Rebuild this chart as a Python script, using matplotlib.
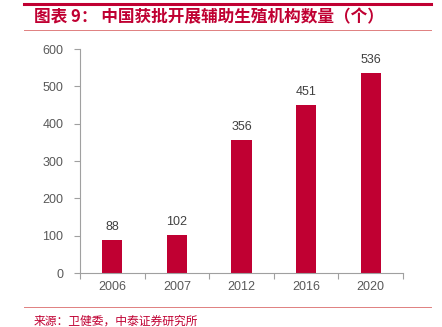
import matplotlib
matplotlib.use('Agg')
import matplotlib.pyplot as plt
from matplotlib.lines import Line2D

plt.rcParams['font.family'] = ['Liberation Sans', 'Noto Sans CJK SC', 'DejaVu Sans']

years = ['2006', '2007', '2012', '2016', '2020']
counts = [88, 102, 356, 451, 536]

title = '图表 9： 中国获批开展辅助生殖机构数量（个）'
source = '来源：卫健委，中泰证券研究所'

red = '#C00032'
grey = '#595959'

W, H = 442, 327
fig = plt.figure(figsize=(W / 100, H / 100), dpi=100)
ax = fig.add_axes([80 / W, 1 - 273 / H, 323 / W, 224 / H])

x = range(len(years))
ax.bar(x, counts, width=0.31, color=red, zorder=2)
for i, v in zip(x, counts):
    ax.text(i, v + 18, str(v), ha='center', va='bottom', fontsize=9, color='#404040')

ax.set_xlim(-0.5, len(years) - 0.5)
ax.set_ylim(0, 600)
ax.set_yticks(range(0, 601, 100))
ax.set_xticks([i - 0.5 for i in range(len(years) + 1)])
ax.set_xticklabels([])
ax.set_xticks(list(x), minor=True)
ax.set_xticklabels(years, minor=True)
ax.tick_params(axis='x', which='minor', length=0, pad=6, labelsize=9, labelcolor=grey)
ax.tick_params(axis='x', which='major', length=4, color='#a0a0a0', direction='out')
ax.tick_params(axis='y', length=4, color='#a0a0a0', labelsize=9, labelcolor=grey, pad=8)
for s in ['top', 'right']:
    ax.spines[s].set_visible(False)
for s in ['left', 'bottom']:
    ax.spines[s].set_color('#a0a0a0')
    ax.spines[s].set_linewidth(0.8)

# header and footer rules
fig.add_artist(Line2D([24 / W, 431 / W], [1 - 4 / H] * 2, color=red, lw=2.2))
fig.add_artist(Line2D([24 / W, 431 / W], [1 - 30 / H] * 2, color='#e08080', lw=0.7))
fig.add_artist(Line2D([24 / W, 431 / W], [1 - 307 / H] * 2, color='#e08080', lw=0.7))

fig.text(34 / W, 1 - 17 / H, title, fontsize=12, color=red, fontweight='bold',
         va='center', ha='left', family=['Noto Sans CJK SC', 'DejaVu Sans'])
fig.text(34 / W, 1 - 321 / H, source, fontsize=8.5, color=red, va='center', ha='left',
         family=['Noto Sans CJK SC', 'DejaVu Sans'])

fig.savefig('out.png', dpi=100)
